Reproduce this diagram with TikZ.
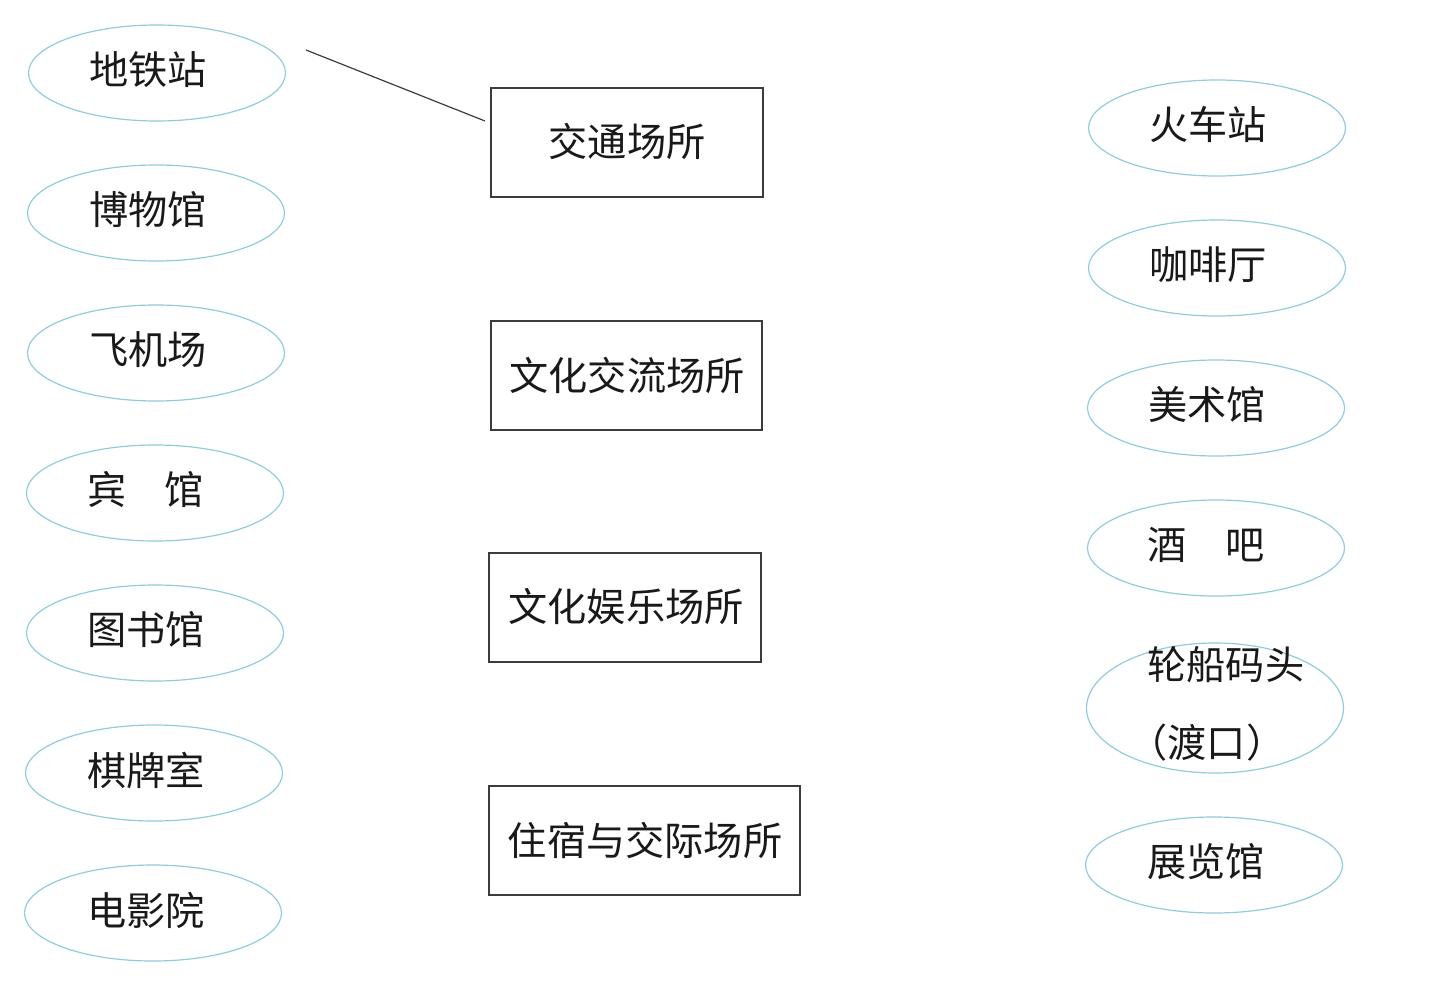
\documentclass[tikz,border=0pt]{standalone}
\usepackage{fontspec}
\newfontfamily\cjk{Noto Sans CJK SC}
\usetikzlibrary{shapes.geometric}
\definecolor{ellc}{RGB}{140,205,225}
\definecolor{boxc}{RGB}{60,60,60}
\tikzset{
  ell/.style={ellipse, draw=ellc, line width=0.6pt, minimum width=128.5pt, minimum height=48pt, inner sep=0pt},
  lbl/.style={font=\cjk\fontsize{19.6pt}{23pt}\selectfont, text=black!90, inner sep=0pt},
  cat/.style={draw=boxc, line width=0.6pt, inner sep=0pt}
}
\begin{document}
\begin{tikzpicture}[x=0.5pt,y=-0.5pt]
\useasboundingbox (0,0) rectangle (1433,980);
% left ellipses
\node[ell] (e1) at (157,73) {};
\node[ell] (e2) at (156,213) {};
\node[ell] (e3) at (156,353) {};
\node[ell] (e4) at (155,493) {};
\node[ell] (e5) at (155,633) {};
\node[ell] (e6) at (154,773) {};
\node[ell] (e7) at (153,913) {};
\node[lbl] (t1) at (148,70) {地铁站};
\node[lbl] (t2) at (148,210) {博物馆};
\node[lbl] (t3) at (148,350) {飞机场};
\node[lbl] (t4) at (146,490) {宾\hspace{19pt}馆};
\node[lbl] (t5) at (146,630) {图书馆};
\node[lbl] (t6) at (146,770) {棋牌室};
\node[lbl] (t7) at (146,910) {电影院};
% boxes
\node[cat, minimum width=136pt, minimum height=54.5pt] (b1) at (627,142.5) {};
\node[cat, minimum width=135.5pt, minimum height=54.5pt] (b2) at (626.5,375.5) {};
\node[cat, minimum width=136pt, minimum height=54.5pt] (b3) at (625,607.5) {};
\node[cat, minimum width=155.5pt, minimum height=54.5pt] (b4) at (644.5,840.5) {};
\node[lbl] (c1) at (627,141) {交通场所};
\node[lbl] (c2) at (627,375) {文化交流场所};
\node[lbl] (c3) at (626,606) {文化娱乐场所};
\node[lbl] (c4) at (645,840) {住宿与交际场所};
% right ellipses
\node[ell] (r1) at (1217,128) {};
\node[ell] (r2) at (1217,268) {};
\node[ell] (r3) at (1216,408) {};
\node[ell] (r4) at (1216,548) {};
\node[ell, minimum height=65pt] (r5) at (1215,708) {};
\node[ell] (r6) at (1214,865) {};
\node[lbl] (s1) at (1208,125) {火车站};
\node[lbl] (s2) at (1208,265) {咖啡厅};
\node[lbl] (s3) at (1207,405) {美术馆};
\node[lbl] (s4) at (1206,545) {酒\hspace{19pt}吧};
\node[lbl, anchor=west] (s5) at (1147,665) {轮船码头};
\node[lbl, anchor=west] (s6) at (1128,743) {（渡口）};
\node[lbl] (s7) at (1206,862) {展览馆};
% connector drawn
\coordinate (p1) at (306,50);
\coordinate (p2) at (485,121);
\draw[boxc, line width=0.6pt] (p1) -- (p2);
\end{tikzpicture}
\end{document}
